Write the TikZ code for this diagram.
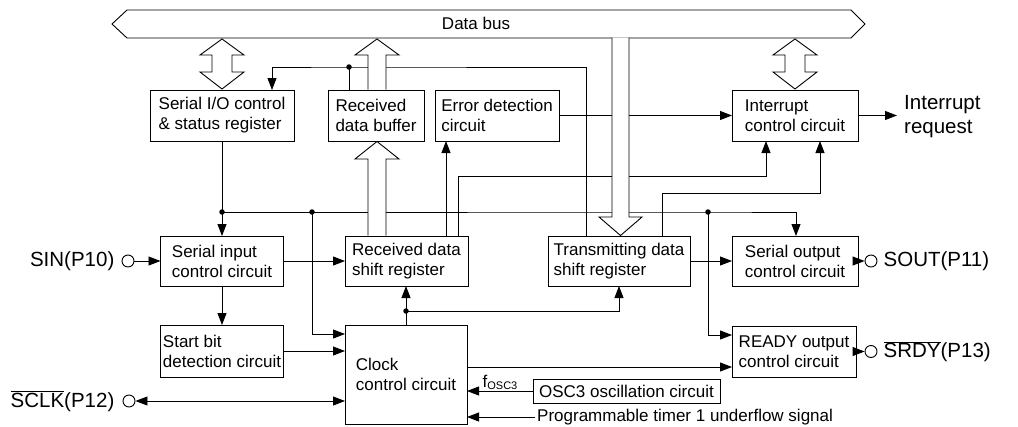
\documentclass[tikz,border=0pt]{standalone}
\usepackage{fontspec}
\setmainfont{Liberation Sans}
\usetikzlibrary{arrows.meta,positioning,calc}

% hollow double arrow between data bus and a register
\newcommand{\busarrow}[1]{%
  \draw[hollow] (#1,39) -- ++(22,16) -- ++(-12,0) -- ++(0,17) -- ++(12,0) -- (#1,89)
    -- ++(-22,-17) -- ++(12,0) -- ++(0,-17) -- ++(-12,0) -- cycle;}

\begin{document}
\begin{tikzpicture}[
        x=1pt, y=-1pt,
        >={Triangle[length=12pt,width=9pt]},
        box/.style={rectangle, draw=black, line width=0.9pt, inner sep=0pt, outer sep=0pt, align=left, font=\fontsize{17}{20}\selectfont},
        flow/.style={->, line width=0.9pt},
        wire/.style={line width=0.9pt},
        hollow/.style={draw=black, fill=white, line width=0.9pt},
        pin/.style={circle, draw=black, line width=0.9pt, minimum size=12pt, inner sep=0pt},
        pinlabel/.style={font=\fontsize{20.5}{24}\selectfont, inner sep=0pt},
        dot/.style={circle, fill=black, minimum size=5.5pt, inner sep=0pt}
    ]
    \useasboundingbox (0,0) rectangle (1018,426);

    % Data bus
    \draw[wire, fill=white] (112,24) -- (127,10) -- (851,10) -- (865,24) -- (851,38) -- (127,38) -- cycle;
    \node[font=\fontsize{17}{20}\selectfont] (bus) at (476,23) {Data bus};

    % Registers and circuits
    \node[box, minimum width=144, minimum height=51] (sio) at (222,115.5) {Serial I/O control\\\& status register};
    \node[box, minimum width=96, minimum height=51] (rdb) at (376,115.5) {Received\\data buffer};
    \node[box, minimum width=124, minimum height=51] (err) at (497,115.5) {Error detection\\circuit};
    \node[box, minimum width=126, minimum height=51] (intc) at (795,115.5) {Interrupt\\control circuit};

    \node[box, minimum width=123, minimum height=50] (sic) at (222,261) {Serial input\\control circuit};
    \node[box, minimum width=123, minimum height=50] (rxs) at (406.5,261) {Received data\\shift register};
    \node[box, minimum width=142, minimum height=50] (txs) at (619,261) {Transmitting data\\shift register};
    \node[box, minimum width=126, minimum height=50] (soc) at (795,261) {Serial output\\control circuit};

    \node[box, minimum width=123, minimum height=52] (sbd) at (222,351) {Start bit\\detection circuit};
    \node[box, minimum width=122, minimum height=99] (clk) at (406,374.5) {Clock\\control circuit};
    \node[box, minimum width=124, minimum height=51] (rdy) at (794,351.5) {READY output\\control circuit};
    \node[box, minimum width=187, minimum height=24] (osc) at (626.5,391) {OSC3 oscillation circuit};

    % Pins
    \node[pin] (sinp) at (128,261) {};
    \node[pinlabel, left=7pt of sinp] (sinl) {SIN(P10)};
    \node[pin] (sclkp) at (129,401) {};
    \node[pinlabel, left=8pt of sclkp] (sclkl) {$\overline{\mbox{SCLK}}$(P12)};
    \node[pin] (soutp) at (871,261) {};
    \node[pinlabel, right=6pt of soutp] (soutl) {SOUT(P11)};
    \node[pin] (srdyp) at (871,351.5) {};
    \node[pinlabel, right=6pt of srdyp] (srdyl) {$\overline{\mbox{SRDY}}$(P13)};
    \node[pinlabel, align=left, anchor=west] (irq) at (904,117) {Interrupt\\request};
    \node[anchor=west, inner sep=2pt, font=\fontsize{17}{20}\selectfont] (pt1) at (535,417) {Programmable timer 1 underflow signal};

    % Junctions
    \coordinate (j1) at (222,212);
    \coordinate (j2) at (312,212);
    \coordinate (j3) at (708,212);
    \coordinate (j4) at (406,311);
    \coordinate (j5) at (349,67);

    % Data flows
    \draw[flow] (sio.south) -- (sic.north);
    \draw[flow] (j1) -- (j3) -| ([xshift=1pt]soc.north);
    \draw[flow] (j2) |- ([yshift=-9pt]clk.north west);
    \draw[flow] (j3) |- ([yshift=-9pt]rdy.north west);
    \draw[flow] (sinp.east) -- (sic.west);
    \draw[flow] (sic.east) -- (rxs.west);
    \draw[flow] (txs.east) -- (soc.west);
    \draw[flow] (soc.east) -- (soutp.west);
    \draw[flow] (rdy.east) -- (srdyp.west);
    \draw[flow] (sic.south) -- (sbd.north);
    \draw[flow] (sbd.east) -- (sbd.east -| clk.west);
    \draw[flow] (clk.north) -- (clk.north |- rxs.south);
    \draw[flow] (j4) -| (txs.south);
    \draw[flow] ([yshift=-42pt]clk.north east) -- ([yshift=-42pt]clk.north east -| rdy.west);
    \draw[flow] (osc.west) -- (osc.west -| clk.east)
        node[midway, above=1pt, inner sep=0pt, font=\fontsize{17}{20}\selectfont] (fosc) {f\raisebox{-1.5pt}{\fontsize{11}{12}\selectfont OSC3}};
    \draw[flow] (pt1.west) -- (pt1.west -| clk.east);
    \draw[<->, line width=0.9pt] (sclkp.east) -- (sclkp.east -| clk.west);
    \draw[flow] (intc.east) -- ($(intc.east -| irq.west)+(-7,0)$);

    \draw[flow] ([xshift=38pt]txs.north west) |- (j5) -| ([xshift=122pt]sio.north west);
    \draw[wire] ([xshift=21pt]rdb.north west) -- (j5);
    \draw[flow] (err.east) -- (err.east -| intc.west);
    \draw[flow] ([xshift=101pt]rxs.north west) -- ([xshift=101pt]rxs.north west |- err.south);
    \draw[flow] ([xshift=113pt]rxs.north west) -- ++(0,-60) -| ([xshift=34pt]intc.south west);
    \draw[flow] ([xshift=114pt]txs.north west) -- ++(0,-43) -| ([xshift=88pt]intc.south west);

    % Hollow bus arrows
    \busarrow{222}
    \busarrow{795}
    \draw[hollow] (368,89.5) -- (368,55) -- (355,55) -- (377,39) -- (399,55) -- (386,55) -- (386,89.5);
    \draw[hollow] (368,235.5) -- (368,159) -- (355,159) -- (377,141.5) -- (399,159) -- (386,159) -- (386,235.5);
    \draw[hollow] (612,37.6) -- (612,217) -- (599,217) -- (620.5,235.5) -- (642,217) -- (629,217) -- (629,37.6);

    \foreach \j in {j1,j2,j3,j4,j5}
        \node[dot] at (\j) {};
\end{tikzpicture}
\end{document}
